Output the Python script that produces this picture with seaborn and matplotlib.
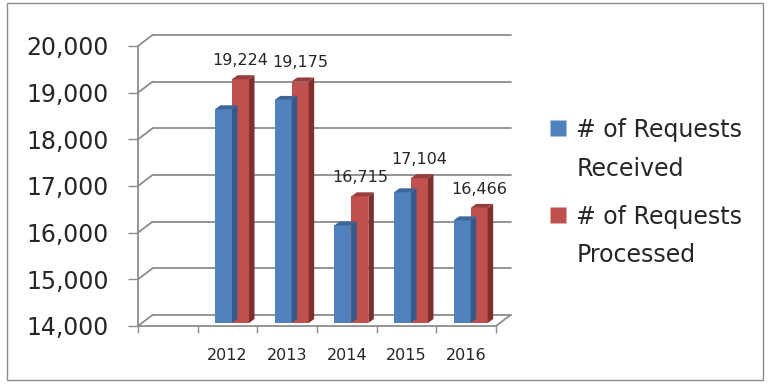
import matplotlib
matplotlib.use("Agg")
import matplotlib.pyplot as plt
import matplotlib.patches as mpatches
from matplotlib.lines import Line2D
import numpy as np
import pandas as pd
import seaborn as sns

# data (first slot is an empty category in the original)
years = ["", "2012", "2013", "2014", "2015", "2016"]
received = [np.nan, 18580, 18780, 16090, 16800, 16200]
processed = [np.nan, 19224, 19175, 16715, 17104, 16466]
series = ["# of Requests Received", "# of Requests Processed"]
legend_labels = ["# of Requests\nReceived", "# of Requests\nProcessed"]
yticks = [14000, 15000, 16000, 17000, 18000, 19000, 20000]

front = ["#4F81BD", "#C0504D"]
side = ["#36598A", "#7E302E"]
top = ["#3E6699", "#973D3B"]
grid_col = "#8C8C8C"

df = pd.DataFrame({
    "year": years * 2,
    "value": received + processed,
    "series": [series[0]] * len(years) + [series[1]] * len(years),
})

sns.set_style("white")
plt.rcParams["font.family"] = ["DejaVu Sans"]

W, H = 773, 387
fig = plt.figure(figsize=(W / 100, H / 100), dpi=100)
ax_l, ax_r, ax_t, ax_b = 138, 496, 46, 326
ax = fig.add_axes([ax_l / W, 1 - ax_b / H, (ax_r - ax_l) / W, (ax_b - ax_t) / H])

sns.barplot(data=df, x="year", y="value", hue="series", order=years,
            hue_order=series, palette=front, width=0.57, errorbar=None,
            legend=False, ax=ax, saturation=1, linewidth=0, zorder=3)

ax.set_xlim(-0.5, len(years) - 0.5)
ax.set_ylim(yticks[0], yticks[-1])

# pixel -> data conversions for the fake 3d depth
px_x = (len(years)) / (ax_r - ax_l)
px_y = (yticks[-1] - yticks[0]) / (ax_b - ax_t)
wall_dx, wall_dy = 14.5 * px_x, 11 * px_y
bar_dx, bar_dy = 5.5 * px_x, 4 * px_y
shift_x, shift_y = 4.5 * px_x, 3 * px_y

x0, x1 = -0.5, len(years) - 0.5
for v in yticks:
    ax.plot([x0 + wall_dx, x1 + wall_dx], [v + wall_dy, v + wall_dy],
            color=grid_col, lw=1.3, clip_on=False, zorder=1)
    ax.plot([x0, x0 + wall_dx], [v, v + wall_dy],
            color=grid_col, lw=1.3, clip_on=False, zorder=1)
ax.plot([x1, x1 + wall_dx], [yticks[0], yticks[0] + wall_dy],
        color=grid_col, lw=1.3, clip_on=False, zorder=1)

# give each bar a side and a top face
for i, cont in enumerate(ax.containers):
    for bar in cont:
        h = bar.get_height()
        if not np.isfinite(h):
            continue
        bx = bar.get_x() + shift_x
        w = bar.get_width()
        yb = yticks[0] + shift_y
        yt = h + shift_y
        bar.set_x(bx)
        bar.set_y(yb)
        bar.set_height(yt - yb)
        bar.set_clip_on(False)
        ax.add_patch(mpatches.Polygon(
            [(bx + w, yb), (bx + w + bar_dx, yb + bar_dy),
             (bx + w + bar_dx, yt + bar_dy), (bx + w, yt)],
            closed=True, facecolor=side[i], edgecolor="none",
            clip_on=False, zorder=3))
        ax.add_patch(mpatches.Polygon(
            [(bx, yt), (bx + bar_dx, yt + bar_dy),
             (bx + w + bar_dx, yt + bar_dy), (bx + w, yt)],
            closed=True, facecolor=top[i], edgecolor="none",
            clip_on=False, zorder=3))
        if i == 1:
            ax.annotate(f"{h:,.0f}", (bx + w / 2, yt),
                        xytext=(0, 8), textcoords="offset points",
                        ha="center", va="bottom", fontsize=11.5,
                        annotation_clip=False)

sns.despine(ax=ax, top=True, right=True)
for s in ["left", "bottom"]:
    ax.spines[s].set_color(grid_col)
    ax.spines[s].set_linewidth(1.3)
    ax.spines[s].set_zorder(2)

ax.set_yticks(yticks)
ax.set_yticklabels([f"{v:,}" for v in yticks])
ax.tick_params(axis="y", length=7.2, width=1, color=grid_col, pad=14,
               labelsize=17, left=True)
ax.set_xticks(range(len(years)))
ax.set_xticklabels(years)
ax.tick_params(axis="x", length=0, pad=16, labelsize=11.5)
ax.set_xticks(np.arange(-0.5, len(years)), minor=True)
ax.tick_params(axis="x", which="minor", length=5, width=1, color=grid_col,
               bottom=True)
ax.set_xlabel("")
ax.set_ylabel("")
ax.grid(False)

handles = [Line2D([], [], marker="s", linestyle="none", markersize=11.5,
                  markerfacecolor=c, markeredgecolor="none") for c in front]
leg = fig.legend(handles, legend_labels, loc="upper left",
                 bbox_to_anchor=(541 / W, 1 - 109 / H), frameon=False,
                 fontsize=17, handlelength=0.6, handletextpad=0.5,
                 labelspacing=1.05, borderaxespad=0)
for t in leg.get_texts():
    t.set_linespacing(1.74)
# squares sit beside the first line of each label
for hnd in leg.legend_handles:
    hnd.set_ydata(np.asarray(hnd.get_ydata()) + 16)

fig.add_artist(mpatches.Rectangle((7 / W, 1 - 380 / H), 756 / W, 377 / H,
                                  transform=fig.transFigure, fill=False,
                                  edgecolor=grid_col, lw=1))

fig.savefig("out.png", dpi=100)
